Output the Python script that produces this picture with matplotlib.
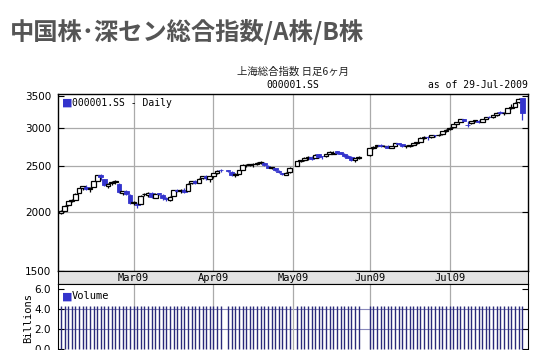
import matplotlib
matplotlib.use("Agg")
import matplotlib.pyplot as plt
import matplotlib.ticker as mticker
import numpy as np
import pandas as pd

# 取引日 (2009/2/2 - 2009/7/29, 中国の祝日を除く)
holidays = ["2009-04-06", "2009-05-01", "2009-05-28", "2009-05-29"]
dates = pd.bdate_range("2009-02-02", "2009-07-29")
dates = dates[~dates.isin(pd.to_datetime(holidays))]

opens = [1990, 2010, 2065, 2110, 2120, 2190, 2240, 2255, 2230, 2255,
         2325, 2390, 2340, 2270, 2295, 2310, 2290, 2195, 2210, 2170,
         2090, 2075, 2080, 2175, 2170, 2195, 2140, 2185, 2170, 2135,
         2120, 2160, 2220, 2210, 2225, 2210, 2295, 2320, 2300, 2350,
         2378, 2340, 2375, 2410, 2445, 2445, 2430, 2385, 2405, 2450,
         2505, 2510, 2515, 2520, 2530, 2535, 2500, 2475, 2470, 2440,
         2410, 2395, 2420, 2500, 2560, 2570, 2600, 2610, 2600, 2640,
         2620, 2615, 2645, 2650, 2680, 2670, 2650, 2625, 2610, 2565,
         2590, 2630, 2720, 2745, 2766, 2745, 2755, 2730, 2755, 2785,
         2775, 2745, 2755, 2765, 2785, 2810, 2860, 2875, 2875, 2900,
         2900, 2910, 2955, 2980, 3010, 3060, 3095, 3135, 3050, 3070,
         3105, 3110, 3090, 3140, 3165, 3160, 3190, 3240, 3225, 3235,
         3300, 3330, 3400, 3465]
highs = [2012, 2063, 2111, 2128, 2185, 2248, 2270, 2275, 2255, 2325,
         2395, 2402, 2345, 2300, 2320, 2330, 2300, 2215, 2220, 2175,
         2103, 2090, 2165, 2195, 2200, 2200, 2190, 2195, 2175, 2150,
         2160, 2222, 2235, 2230, 2240, 2295, 2325, 2330, 2350, 2380,
         2385, 2378, 2412, 2445, 2455, 2450, 2435, 2410, 2450, 2515,
         2520, 2525, 2530, 2545, 2560, 2545, 2510, 2490, 2475, 2450,
         2415, 2420, 2480, 2560, 2575, 2605, 2620, 2615, 2640, 2645,
         2625, 2650, 2685, 2690, 2690, 2675, 2655, 2630, 2620, 2600,
         2615, 2725, 2745, 2770, 2775, 2760, 2760, 2755, 2790, 2795,
         2780, 2760, 2770, 2790, 2810, 2880, 2885, 2890, 2905, 2905,
         2915, 2960, 2980, 3010, 3065, 3095, 3135, 3140, 3110, 3110,
         3120, 3120, 3140, 3170, 3175, 3195, 3240, 3255, 3240, 3305,
         3375, 3410, 3470, 3478]
lows = [1978, 2005, 2060, 2095, 2115, 2185, 2225, 2225, 2200, 2250,
        2320, 2335, 2270, 2240, 2280, 2290, 2195, 2165, 2170, 2080,
        2065, 2037, 2075, 2160, 2150, 2140, 2135, 2165, 2120, 2110,
        2105, 2155, 2200, 2195, 2195, 2210, 2290, 2285, 2295, 2340,
        2330, 2310, 2360, 2405, 2430, 2425, 2380, 2370, 2400, 2445,
        2490, 2495, 2490, 2505, 2515, 2500, 2470, 2455, 2440, 2410,
        2390, 2385, 2415, 2495, 2545, 2560, 2575, 2570, 2600, 2600,
        2580, 2605, 2640, 2640, 2650, 2640, 2610, 2590, 2560, 2550,
        2585, 2625, 2710, 2735, 2740, 2735, 2720, 2720, 2750, 2765,
        2740, 2720, 2740, 2755, 2775, 2805, 2850, 2830, 2865, 2880,
        2890, 2905, 2950, 2970, 3005, 3055, 3085, 3100, 3010, 3060,
        3095, 3080, 3085, 3130, 3150, 3155, 3185, 3220, 3200, 3230,
        3295, 3325, 3395, 3120]
closes = [2011, 2060, 2107, 2114, 2181, 2245, 2265, 2238, 2249, 2320,
          2389, 2362, 2280, 2292, 2307, 2317, 2201, 2207, 2176, 2083,
          2093, 2071, 2161, 2180, 2193, 2145, 2183, 2177, 2134, 2129,
          2153, 2218, 2214, 2218, 2197, 2290, 2316, 2299, 2346, 2374,
          2350, 2373, 2408, 2440, 2444, 2436, 2390, 2405, 2445, 2505,
          2510, 2515, 2520, 2530, 2540, 2505, 2475, 2480, 2445, 2420,
          2400, 2415, 2477, 2559, 2568, 2590, 2605, 2585, 2635, 2610,
          2616, 2645, 2675, 2665, 2655, 2650, 2625, 2600, 2575, 2590,
          2614, 2722, 2741, 2766, 2745, 2755, 2730, 2750, 2785, 2775,
          2745, 2755, 2765, 2785, 2805, 2860, 2875, 2870, 2895, 2898,
          2905, 2955, 2975, 3005, 3060, 3090, 3130, 3110, 3040, 3105,
          3113, 3090, 3135, 3165, 3160, 3190, 3235, 3230, 3235, 3300,
          3325, 3395, 3460, 3230]
volumes = [4.3] * len(dates)  # Billions

yticks = [1500, 2000, 2500, 3000, 3500]
vol_ticks = [0.0, 2.0, 4.0, 6.0]
months = ["2009-03-01", "2009-04-01", "2009-05-01", "2009-06-01", "2009-07-01"]
month_labels = ["Mar09", "Apr09", "May09", "Jun09", "Jul09"]

blue = "#3333cc"
grid_c = "#aaaaaa"
mono = "DejaVu Sans Mono"
W, H = 549, 350

# 横軸は平日の通し番号 (祝日は空き)
start = "2009-02-02"
x = np.busday_count(start, dates.values.astype("datetime64[D]"))
mx = np.busday_count(start, np.array(months, dtype="datetime64[D]"))
xlim = (-0.8, 128.6)

fig = plt.figure(figsize=(5.49, 3.5), dpi=100)
fig.patch.set_facecolor("white")


def box(l, t, r, b):
    return [l / W, 1 - b / H, (r - l) / W, (b - t) / H]


fig.text(10 / W, 1 - 32 / H, "中国株･深セン総合指数/A株/B株",
         family=["Noto Sans CJK JP", "DejaVu Sans"], fontweight="bold",
         fontsize=17.5, color="#555555", va="center", ha="left")
fig.text(293 / W, 1 - 72 / H, "上海総合指数 日足6ヶ月",
         family=["Noto Sans CJK JP", "DejaVu Sans"], fontsize=7.5,
         color="#222222", ha="center", va="center")
fig.text(293 / W, 1 - 85 / H, "000001.SS", family=mono, fontsize=7,
         ha="center", va="center")
fig.text(528 / W, 1 - 85 / H, "as of 29-Jul-2009", family=mono, fontsize=7,
         ha="right", va="center")

# 価格チャート
ax = fig.add_axes(box(58, 94, 528, 271))
ax.set_yscale("log")
ax.set_ylim(1500, 3540)
ax.set_xlim(*xlim)
wid = 1.3
for xi, o, h, l, c in zip(x, opens, highs, lows, closes):
    if c >= o:
        ax.vlines(xi, l, h, color="black", lw=0.9, zorder=3)
        ax.bar(xi, c - o if c > o else 1, bottom=o, width=wid,
               facecolor="white", edgecolor="black", lw=0.9, zorder=4)
    else:
        ax.vlines(xi, l, h, color=blue, lw=0.9, zorder=3)
        ax.bar(xi, o - c, bottom=c, width=wid, facecolor=blue,
               edgecolor=blue, lw=0.6, zorder=4)
for yv in [2000, 2500, 3000]:
    ax.axhline(yv, color=grid_c, lw=0.9, zorder=1)
for m in mx:
    ax.axvline(m, color=grid_c, lw=0.9, zorder=1)
ax.yaxis.set_major_locator(mticker.FixedLocator(yticks))
ax.yaxis.set_major_formatter(mticker.FixedFormatter([str(v) for v in yticks]))
ax.yaxis.set_minor_locator(mticker.NullLocator())
ax.tick_params(axis="y", which="major", labelsize=7.5, direction="in",
               length=4, right=True, pad=5)
ax.set_xticks([])
for s in ax.spines.values():
    s.set_linewidth(1.0)
ax.text(0.008, 0.95, "\u25a0", color=blue, transform=ax.transAxes,
        fontsize=8, va="center", ha="left")
ax.text(0.03, 0.95, "000001.SS - Daily", family=mono, fontsize=7,
        transform=ax.transAxes, va="center", ha="left")

# 日付の帯
axd = fig.add_axes(box(58, 271, 528, 284))
axd.set_facecolor("#e2e2e2")
axd.set_xlim(*xlim)
axd.set_ylim(0, 1)
axd.set_yticks([])
axd.set_xticks([])
for m, lab in zip(mx, month_labels):
    axd.text(m, 0.45, lab, family=mono, fontsize=7.5, ha="center",
             va="center")

# 出来高
axv = fig.add_axes(box(58, 284, 528, 352))
axv.set_xlim(*xlim)
axv.set_ylim(-0.35, 6.5)
axv.vlines(x, 0, volumes, color="#2a2a7a", lw=1.0, zorder=3)
for yv in [2.0, 4.0]:
    axv.axhline(yv, color="#8888bb", lw=0.8, zorder=1)
for m in mx:
    axv.axvline(m, color=grid_c, lw=0.9, zorder=1)
axv.set_yticks(vol_ticks)
axv.set_yticklabels(["%.1f" % v for v in vol_ticks])
axv.tick_params(axis="y", labelsize=7.5, direction="in", length=4,
                right=True, pad=5)
axv.set_xticks([])
axv.set_ylabel("Billions", family=mono, fontsize=7.5)
axv.yaxis.set_label_coords(-0.052, 0.5)
axv.text(0.008, 0.82, "\u25a0", color=blue, transform=axv.transAxes,
         fontsize=8, va="center", ha="left")
axv.text(0.03, 0.82, "Volume", family=mono, fontsize=7.5,
         transform=axv.transAxes, va="center", ha="left")

fig.savefig("out.png", dpi=100)
